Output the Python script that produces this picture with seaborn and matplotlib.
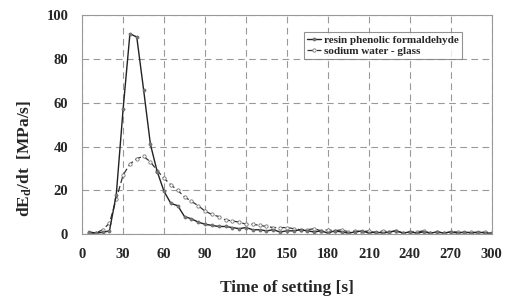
import numpy as np
import pandas as pd
import matplotlib
matplotlib.use("Agg")
import matplotlib.pyplot as plt
import seaborn as sns

# ---- data ----
time_s = list(range(5, 301, 5))
resin = [1.0, 0.5, 0.8, 1.5, 18, 57, 91.5, 90, 66, 41,
         28.5, 19.5, 14, 13, 8, 7, 5.5, 4.5, 4, 3.5,
         3.5, 3, 2.5, 3, 2, 2, 1.5, 2, 1, 1.5,
         1.5, 2, 1.5, 1, 1.5, 0.5, 1.5, 1, 0.5, 1,
         1.5, 0.5, 1, 0.5, 1, 1.5, 0.5, 1, 0.5, 1,
         0.5, 1, 0.5, 1, 0.5, 1, 0.5, 1, 0.5, 0.5]
water_glass = [0.5, 0.5, 2, 5, 16, 27, 32, 34.5, 35.5, 33,
               29, 25.5, 22.5, 20, 17, 15, 13, 10.5, 9, 8,
               6.5, 6, 5.5, 4.5, 4.5, 4, 3.5, 3, 3, 3,
               2.5, 2, 2, 2.5, 1.5, 2, 1.5, 2, 1, 1.5,
               1, 1.5, 0.5, 1.5, 1, 1.5, 0.5, 1, 1, 1.5,
               0.5, 1, 0.5, 1, 1, 0.5, 1, 0.5, 1, 0.5]
series_names = ["resin phenolic formaldehyde", "sodium water - glass"]
x_ticks = list(range(0, 301, 30))
y_ticks = list(range(0, 101, 20))

df = pd.DataFrame({
    "t": time_s * 2,
    "v": resin + water_glass,
    "series": [series_names[0]] * len(time_s) + [series_names[1]] * len(time_s),
})

sns.set_style("white")
plt.rcParams["font.family"] = ["Liberation Serif", "DejaVu Serif"]
plt.rcParams["font.weight"] = "bold"
plt.rcParams["mathtext.fontset"] = "custom"
plt.rcParams["mathtext.rm"] = "Liberation Serif:bold"
plt.rcParams["mathtext.bf"] = "Liberation Serif:bold"
plt.rcParams["mathtext.it"] = "Liberation Serif:bold"

fig = plt.figure(figsize=(5.07, 2.96), dpi=100)
ax = fig.add_axes([0.162, 0.209, 0.808, 0.740])

d0 = df[df["series"] == series_names[0]]
d1 = df[df["series"] == series_names[1]]
sns.lineplot(data=d1, x="t", y="v", ax=ax, color="#333333", linewidth=0.9,
             marker="o", markersize=2.4,
             markerfacecolor="white", markeredgecolor="#777777",
             markeredgewidth=0.6, label=series_names[1], legend=False)
ax.lines[-1].set_linestyle((0, (5, 2.5)))
sns.lineplot(data=d0, x="t", y="v", ax=ax, color="#222222", linewidth=1.0,
             marker="o", markersize=2.3, markerfacecolor="#777777",
             markeredgecolor="#666666", markeredgewidth=0.4,
             label=series_names[0], legend=False)

ax.set_xlim(0, 300)
ax.set_ylim(0, 100)
ax.set_xticks(x_ticks)
ax.set_yticks(y_ticks)
ax.tick_params(axis="both", labelsize=10.5, length=3, color="#888888", pad=7)
for lab in ax.get_xticklabels() + ax.get_yticklabels():
    lab.set_fontweight("bold")
ax.grid(True, color="#999999", linestyle=(0, (6, 4)), linewidth=0.8)
for s in ax.spines.values():
    s.set_color("#999999")
    s.set_linewidth(0.8)

ax.set_xlabel("Time of setting [s]", fontsize=12.5, fontweight="bold", labelpad=14)
ax.set_ylabel(r"dE$_{\mathbf{d}}$/dt  [MPa/s]", fontsize=12.5, fontweight="bold")
ax.yaxis.set_label_coords(-0.139, 0.345)
ax.yaxis.label.set_verticalalignment("center")

handles, labels = ax.get_legend_handles_labels()
order = [labels.index(n) for n in series_names]
leg = ax.legend([handles[i] for i in order], [labels[i] for i in order],
                loc="upper right", bbox_to_anchor=(0.941, 0.948),
                frameon=True, fancybox=False, handlelength=1.2,
                handletextpad=0.3, borderpad=0.3, labelspacing=0.1,
                edgecolor="#777777", prop={"weight": "bold", "size": 8})
leg.get_frame().set_linewidth(0.8)

fig.savefig("out.png", dpi=100)
